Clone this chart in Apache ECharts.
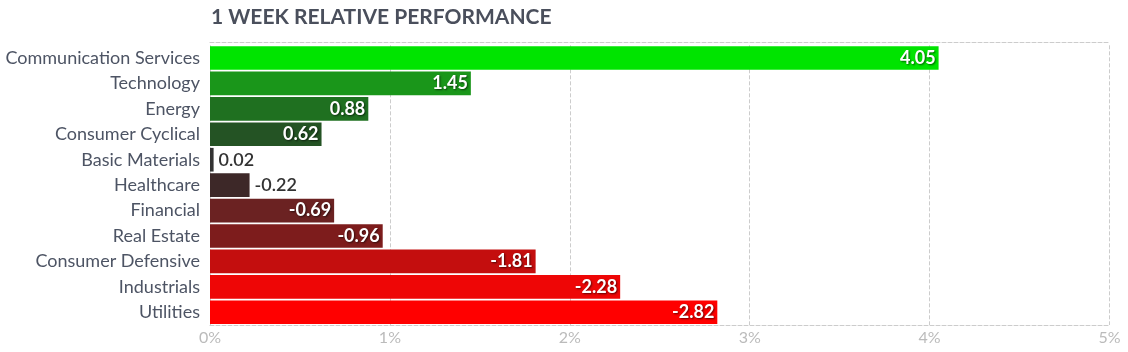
<!DOCTYPE html>
<html>
<head>
<meta charset="utf-8">
<script src="https://cdn.jsdelivr.net/npm/echarts@6/dist/echarts.min.js"></script>
<style>
html,body{margin:0;padding:0;background:#fff;}
#chart{width:1128px;height:352px;}
</style>
</head>
<body>
<div id="chart"></div>
<script>
const titleText = '1 WEEK RELATIVE PERFORMANCE';
const categories = ['Communication Services','Technology','Energy','Consumer Cyclical','Basic Materials','Healthcare','Financial','Real Estate','Consumer Defensive','Industrials','Utilities'];
const values = [4.05, 1.45, 0.88, 0.62, 0.02, -0.22, -0.69, -0.96, -1.81, -2.28, -2.82];
const barColors = ['#00e400','#1a961a','#1f7020','#245324','#333333','#3d2828','#6b2222','#7d1c1c','#c40e0e','#ee0606','#ff0000'];
const tickLabels = ['0%','1%','2%','3%','4%','5%'];

const FONT = 'Lato, "Noto Sans", sans-serif';
const chart = echarts.init(document.getElementById('chart'), null, {renderer:'canvas'});

const data = values.map((v, i) => {
  const small = Math.abs(v) < 0.4;
  return {
    value: Math.abs(v),
    signed: v,
    itemStyle: {color: barColors[i]},
    label: small ? {
      position: 'right', distance: 5, color: '#333333', fontWeight: 600,
      textShadowBlur: 0, textShadowColor: 'transparent'
    } : {
      position: 'insideRight', distance: 3, color: '#ffffff', fontWeight: 'bold',
      textShadowBlur: 2, textShadowColor: 'rgba(0,0,0,0.6)', textShadowOffsetX: 1, textShadowOffsetY: 1
    }
  };
});

chart.setOption({
  animation: false,
  title: {
    text: titleText, left: 206, top: 2,
    textStyle: {fontFamily: FONT, fontSize: 21, fontWeight: 'bold', color: '#4a4f5c'}
  },
  grid: {left: 210, right: 18.5, top: 45.3, bottom: 27, containLabel: false},
  xAxis: [{
    type: 'value', min: 0, max: 5, interval: 1, position: 'bottom',
    axisLine: {show: true, lineStyle: {color: '#cccccc', type: 'dashed', width: 1}},
    axisTick: {show: false},
    splitLine: {show: true, lineStyle: {color: '#cccccc', type: 'dashed', width: 1}},
    axisLabel: {
      color: '#bbbbbb', fontFamily: FONT, fontSize: 16, margin: 5,
      formatter: (v) => tickLabels[Math.round(v)]
    }
  },{
    type: 'value', min: 0, max: 5, interval: 1, position: 'top', offset: 3,
    axisLine: {show: true, lineStyle: {color: '#cccccc', type: 'dashed', width: 1}},
    axisTick: {show: false}, splitLine: {show: false}, axisLabel: {show: false}
  }],
  yAxis: {
    type: 'category', data: categories, inverse: true,
    axisLine: {show: false}, axisTick: {show: false},
    axisLabel: {color: '#4d5464', fontFamily: FONT, fontSize: 18, margin: 10}
  },
  series: [{
    type: 'bar', data: data, barCategoryGap: '7%', xAxisIndex: 0,
    label: {
      show: true, fontFamily: FONT, fontSize: 18,
      formatter: (p) => p.data.signed.toFixed(2)
    }
  }]
});
</script>
</body>
</html>
